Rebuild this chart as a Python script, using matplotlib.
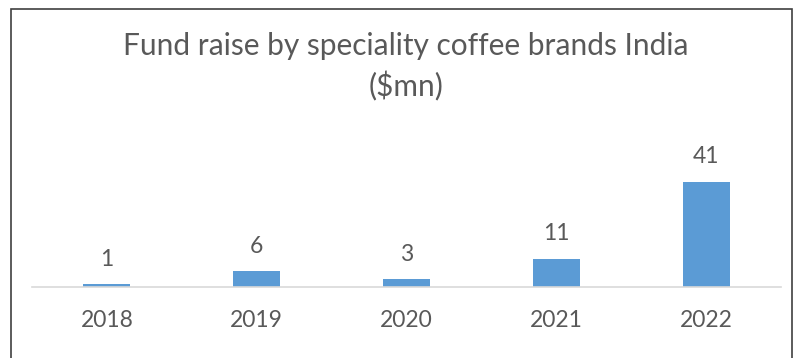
import numpy as np
import matplotlib.pyplot as plt
from matplotlib.patches import Rectangle

# Fund raise by year ($mn)
years = ['2018', '2019', '2020', '2021', '2022']
funds = [1, 6, 3, 11, 41]

bar_color = '#5B9BD5'
text_color = '#595959'

plt.rcParams['font.family'] = ['Lato', 'DejaVu Sans']

fig = plt.figure(figsize=(7.93, 3.58), dpi=100)
ax = fig.add_axes([32 / 793, 71.3 / 358, 749 / 793, 128 / 358])

x = np.arange(len(years))
bars = ax.bar(x, funds, width=0.314, color=bar_color, zorder=2)
for rect, v in zip(bars, funds):
    ax.annotate(str(v), (rect.get_x() + rect.get_width() / 2, v),
                xytext=(0, 18), textcoords='offset points',
                ha='center', va='center', fontsize=16.5, color=text_color)

ax.set_xlim(-0.5, len(years) - 0.5)
ax.set_ylim(0, 50)
ax.set_xticks(x)
ax.set_xticklabels(years, fontsize=16.5, color=text_color)
ax.tick_params(axis='x', length=0, pad=17)
ax.set_yticks([])
for side in ['top', 'right', 'left']:
    ax.spines[side].set_visible(False)
ax.spines['bottom'].set_color('#D9D9D9')
ax.spines['bottom'].set_linewidth(1.2)

title_x = 406 / 793
fig.text(title_x, 1 - 46 / 358, 'Fund raise by speciality coffee brands India',
         ha='center', va='center', fontsize=21.5, color=text_color)
fig.text(title_x, 1 - 86 / 358, '($mn)',
         ha='center', va='center', fontsize=21.5, color=text_color)

# chart border
fig.patches.append(Rectangle((10.5 / 793, -0.05), (791.5 - 10.5) / 793, 1 - 9 / 358 + 0.05,
                             transform=fig.transFigure, fill=False,
                             edgecolor='#404040', linewidth=1.2))

fig.savefig('out.png', dpi=100)
